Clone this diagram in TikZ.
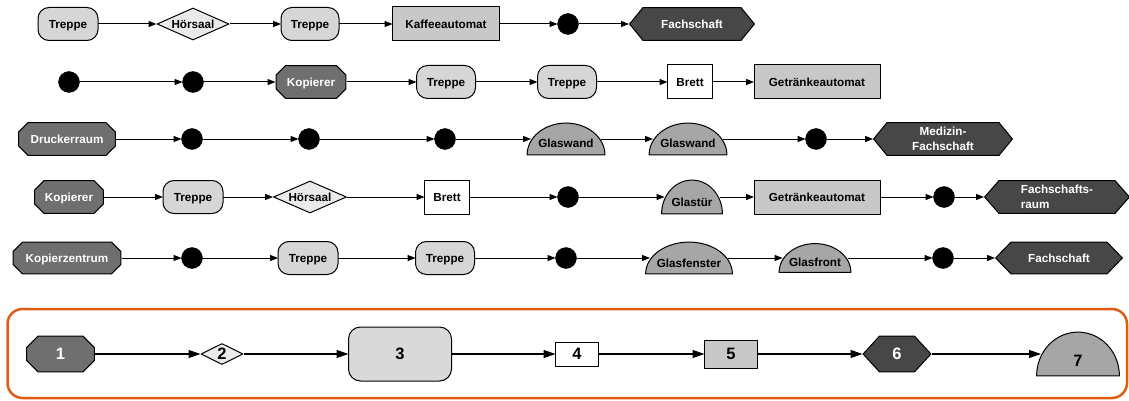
\documentclass[tikz,border=0pt]{standalone}
\usepackage{fontspec}
\setmainfont{Liberation Sans}
\usetikzlibrary{arrows.meta}
\definecolor{cRR}{HTML}{D6D6D6}
\definecolor{cRRb}{HTML}{D9D9D9}
\definecolor{cDia}{HTML}{EAEAEA}
\definecolor{cBox}{HTML}{C8C8C8}
\definecolor{cOct}{HTML}{6F6F6F}
\definecolor{cHex}{HTML}{474747}
\definecolor{cSemi}{HTML}{A6A6A6}
\definecolor{cOrange}{HTML}{E35B13}
\newcommand\nfont{\fontsize{11.7}{15}\selectfont\bfseries}
\newcommand\bfont{\fontsize{16.5}{18}\selectfont\bfseries}
\tikzset{
  nd/.style={inner sep=0pt, outer sep=0pt, font=\nfont, text height=8.6pt, text depth=0pt},
  bd/.style={line width=1pt, line join=round},
  rr/.style={nd, draw, bd, fill=cRR, rounded corners=11pt, minimum height=33pt, minimum width=#1},
  sq/.style 2 args={nd, draw, bd, fill=#1, minimum height=34pt, minimum width=#2},
  dot/.style={circle, fill=black, draw=black, minimum size=21pt, inner sep=0pt, outer sep=0pt},
  dia/.style 2 args={nd, minimum width=#1, minimum height=#2,
    path picture={\draw[bd, fill=cDia]
      ([xshift=.7pt]path picture bounding box.west) --
      ([yshift=-.7pt]path picture bounding box.north) --
      ([xshift=-.7pt]path picture bounding box.east) --
      ([yshift=.7pt]path picture bounding box.south) -- cycle;}},
  hexa/.style n args={3}{nd, minimum width=#1, minimum height=#2, text=white,
    path picture={\draw[bd, fill=cHex]
      ([xshift=.6pt]path picture bounding box.west) --
      ([xshift=#3, yshift=-.6pt]path picture bounding box.north west) --
      ([xshift=-#3, yshift=-.6pt]path picture bounding box.north east) --
      ([xshift=-.6pt]path picture bounding box.east) --
      ([xshift=-#3, yshift=.6pt]path picture bounding box.south east) --
      ([xshift=#3, yshift=.6pt]path picture bounding box.south west) -- cycle;}},
  octa/.style n args={3}{nd, minimum width=#1, minimum height=#2, text=white,
    path picture={\draw[bd, fill=cOct]
      ([xshift=.6pt, yshift=#3]path picture bounding box.south west) --
      ([xshift=.6pt, yshift=-#3]path picture bounding box.north west) --
      ([xshift=#3, yshift=-.6pt]path picture bounding box.north west) --
      ([xshift=-#3, yshift=-.6pt]path picture bounding box.north east) --
      ([xshift=-.6pt, yshift=-#3]path picture bounding box.north east) --
      ([xshift=-.6pt, yshift=#3]path picture bounding box.south east) --
      ([xshift=-#3, yshift=.6pt]path picture bounding box.south east) --
      ([xshift=#3, yshift=.6pt]path picture bounding box.south west) -- cycle;}},
  semi/.style 2 args={nd, minimum width=#1, minimum height=#2,
    path picture={\draw[bd, fill=cSemi]
      ([shift={(.6pt,.6pt)}]path picture bounding box.south west)
      arc[start angle=180, end angle=0, x radius={#1/2-0.6}, y radius={#2-1.2}] -- cycle;}},
  twoline/.style={text height=23.6pt, text depth=0pt},
  big/.style={font=\bfont, text height=11.8pt},
  arr/.style={-{Triangle[length=8pt,width=6pt]}, line width=1pt},
  barr/.style={-{Triangle[length=12pt,width=8pt]}, line width=1.1pt},
  into/.style={shorten >=-#1},
  outof/.style={shorten <=-#1}
}
\begin{document}
\begin{tikzpicture}[x=1pt,y=1pt]
\useasboundingbox (0,0) rectangle (1129,-401);

% Row 1
\node[rr=60] (r1a) at (68,-24) {Treppe};
\node[dia={73}{33}] (r1b) at (193,-24) {Hörsaal};
\node[rr=58] (r1c) at (310,-24) {Treppe};
\node[sq={cBox}{107}] (r1d) at (446,-24) {Kaffeeautomat};
\node[dot] (r1e) at (568,-24) {};
\node[hexa={126}{34}{14}] (r1f) at (692,-24) {Fachschaft};

% Row 2
\node[dot] (r2a) at (69,-82) {};
\node[dot] (r2b) at (193,-82) {};
\node[octa={71}{34}{10}] (r2c) at (311,-82) {Kopierer};
\node[rr=59] (r2d) at (446,-82) {Treppe};
\node[rr=59] (r2e) at (567,-82) {Treppe};
\node[sq={white}{45}] (r2f) at (690,-82) {Brett};
\node[sq={cBox}{126}] (r2g) at (817,-82) {Getränkeautomat};

% Row 3
\node[octa={98}{34}{10}] (r3a) at (67,-139) {Druckerraum};
\node[dot] (r3b) at (192,-139) {};
\node[dot] (r3c) at (309,-139) {};
\node[dot] (r3d) at (445,-139) {};
\node[semi={79}{33}] (r3e) at (566,-139) {\raisebox{-4pt}{Glaswand}};
\node[semi={79}{33}] (r3f) at (688,-139) {\raisebox{-4pt}{Glaswand}};
\node[dot] (r3g) at (816,-139) {};
\node[hexa={140}{34}{14}, align=center, twoline] (r3h) at (943,-139) {Medizin-\\Fachschaft};

% Row 4
\node[octa={70}{34}{10}] (r4a) at (69,-197) {Kopierer};
\node[rr=60] (r4b) at (193,-197) {Treppe};
\node[dia={74}{33}] (r4c) at (310,-197) {Hörsaal};
\node[sq={white}{45}] (r4d) at (447,-197) {Brett};
\node[dot] (r4e) at (568,-197) {};
\node[semi={62}{35}] (r4f) at (692,-197) {\raisebox{-5pt}{Glastür}};
\node[sq={cBox}{126}] (r4g) at (817,-197) {Getränkeautomat};
\node[dot] (r4h) at (944,-197) {};
\node[hexa={146}{34}{15}, align=left, twoline] (r4i) at (1057,-197) {Fachschafts-\\raum};

% Row 5
\node[octa={109}{33}{10}] (r5a) at (67,-258) {Kopierzentrum};
\node[dot] (r5b) at (192,-258) {};
\node[rr=60] (r5c) at (308,-258) {Treppe};
\node[rr=59] (r5d) at (445,-258) {Treppe};
\node[dot] (r5e) at (566,-258) {};
\node[semi={88}{33}] (r5f) at (689,-258) {\raisebox{-5pt}{Glasfenster}};
\node[semi={73}{30}] (r5g) at (815,-258) {\raisebox{-4pt}{Glasfront}};
\node[dot] (r5h) at (943,-258) {};
\node[hexa={128}{33}{16}] (r5i) at (1059,-258) {Fachschaft};

% Legend frame
\draw[cOrange, line width=2.5pt, rounded corners=15pt] (7.5,-309) rectangle (1127,-398);

% Legend row
\node[octa={69}{37}{12}, big] (b1) at (60.5,-354) {1};
\node[dia={43}{22}, big] (b2) at (222,-354) {2};
\node[rr=103, big, minimum height=54pt, rounded corners=12pt, fill=cRRb] (b3) at (400,-354) {3};
\node[sq={white}{43}, big, minimum height=24pt] (b4) at (577,-354) {4};
\node[sq={cBox}{53}, big, minimum height=28pt] (b5) at (731,-354) {5};
\node[hexa={69}{37}{17}, big] (b6) at (897,-354) {6};
\node[semi={84}{45}, big] (b7) at (1078,-354) {\raisebox{-6.5pt}{7}};

% Connectors
\draw[arr] (r1a) -- (r1b);
\draw[arr] (r1b) -- (r1c);
\draw[arr] (r1c) -- (r1d);
\draw[arr] (r1d) -- (r1e);
\draw[arr] (r1e) -- (r1f);

\draw[arr] (r2a) -- (r2b);
\draw[arr] (r2b) -- (r2c);
\draw[arr] (r2c) -- (r2d);
\draw[arr] (r2d) -- (r2e);
\draw[arr] (r2e) -- (r2f);
\draw[arr] (r2f) -- (r2g);

\draw[arr] (r3a) -- (r3b);
\draw[arr] (r3b) -- (r3c);
\draw[arr] (r3c) -- (r3d);
\draw[arr, into=4.5pt] (r3d) -- (r3e);
\draw[arr, outof=4.5pt, into=4.5pt] (r3e) -- (r3f);
\draw[arr, outof=4.5pt] (r3f) -- (r3g);
\draw[arr] (r3g) -- (r3h);

\draw[arr] (r4a) -- (r4b);
\draw[arr] (r4b) -- (r4c);
\draw[arr] (r4c) -- (r4d);
\draw[arr] (r4d) -- (r4e);
\draw[arr, into=3.5pt] (r4e) -- (r4f);
\draw[arr, outof=3.5pt] (r4f) -- (r4g);
\draw[arr] (r4g) -- (r4h);
\draw[arr] (r4h) -- (r4i);

\draw[arr] (r5a) -- (r5b);
\draw[arr] (r5b) -- (r5c);
\draw[arr] (r5c) -- (r5d);
\draw[arr] (r5d) -- (r5e);
\draw[arr, into=5pt] (r5e) -- (r5f);
\draw[arr, outof=5pt, into=4pt] (r5f) -- (r5g);
\draw[arr, outof=4pt] (r5g) -- (r5h);
\draw[arr] (r5h) -- (r5i);

\draw[barr] (b1) -- (b2);
\draw[barr] (b2) -- (b3);
\draw[barr] (b3) -- (b4);
\draw[barr] (b4) -- (b5);
\draw[barr] (b5) -- (b6);
\draw[barr, into=5pt] (b6) -- (b7);
\end{tikzpicture}
\end{document}
